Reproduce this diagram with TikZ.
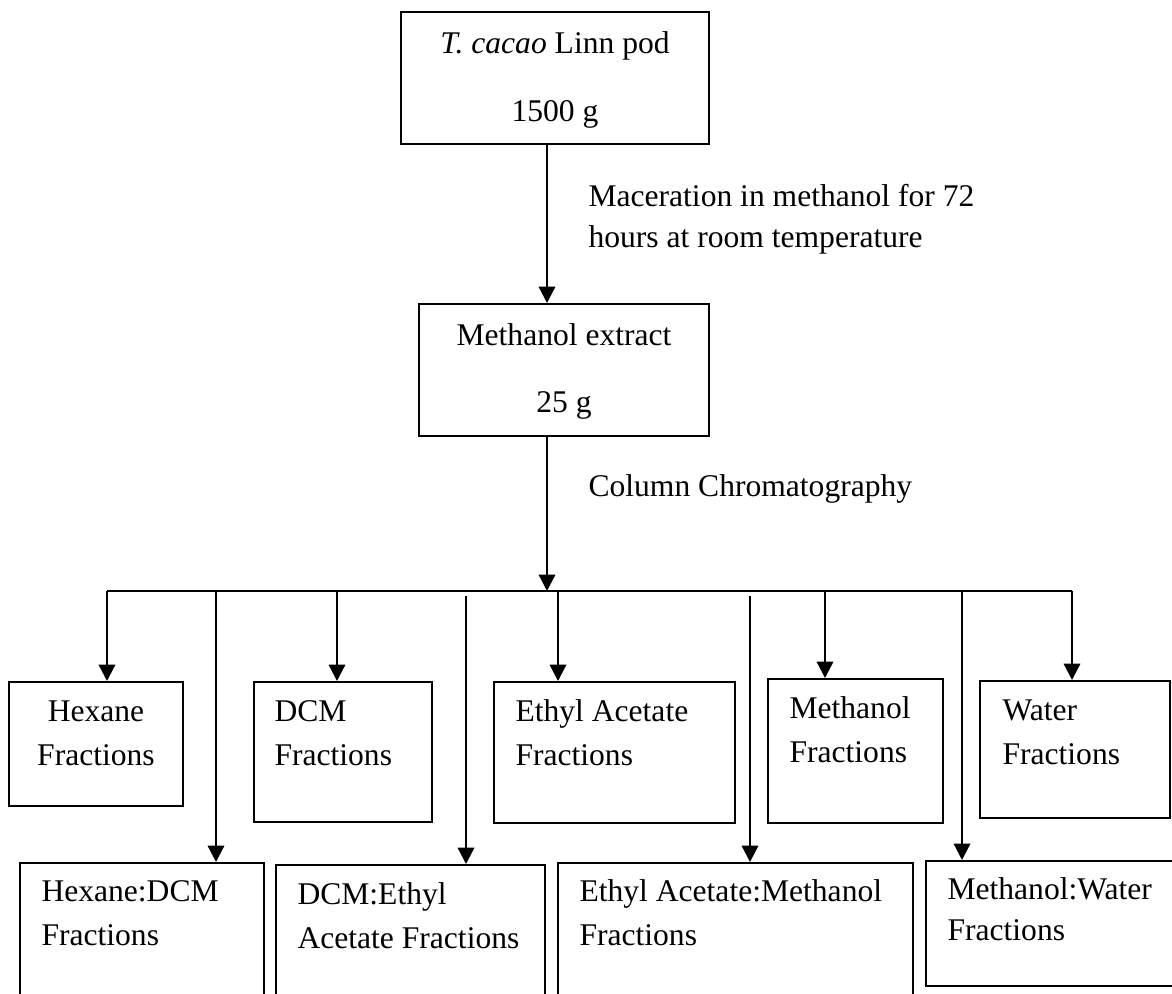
\documentclass[tikz,border=0pt]{standalone}
\usepackage{fontspec}
\setmainfont{Liberation Serif}
\usetikzlibrary{arrows.meta,fit}

\tikzset{
  box/.style={draw, line width=0.75pt, inner sep=0pt},
  % base anchor sits on the last line of the text
  txt/.style={anchor=base west, inner sep=0pt, align=left, font=\fontsize{12}{16.4}\selectfont},
  ctxt/.style={anchor=base, inner sep=0pt, align=center, font=\fontsize{12}{16.4}\selectfont},
  wire/.style={line width=0.85pt},
  flow/.style={line width=0.85pt, -{Triangle[length=6.2pt,width=6.2pt]}},
}

\begin{document}
\begin{tikzpicture}[x=0.38pt, y=-0.38pt]
  \useasboundingbox (0,0) rectangle (1172,994);
  \clip (0,0) rectangle (1172,994);

  % pod and crude extract
  \node[box, fit={(401,12) (709,144)}] (pod) {};
  \node[ctxt] (podtxt) at (555,122) {\textit{T. cacao} Linn pod\\[9.8pt]1500 g};
  \node[box, fit={(419,304) (709,436)}] (extract) {};
  \node[ctxt] (extxt) at (564,413) {Methanol extract\\[9.4pt]25 g};

  \coordinate (trunk) at (547,591);
  \draw[flow] (pod.south -| trunk) -- (extract.north -| trunk);
  \node[txt] (macer) at (588,248) {Maceration in methanol for 72\\[-0.8pt]hours at room temperature};
  \draw[flow] (extract.south -| trunk) -- (trunk);
  \node[txt] (column) at (588,497) {Column Chromatography};

  % single solvent fractions
  \node[box, fit={(9,682) (183,806)}] (hex) {};
  \node[ctxt] (hextxt) at (96,765) {Hexane\\Fractions};
  \node[box, fit={(254,682) (432,822)}] (dcm) {};
  \node[txt] (dcmtxt) at (274,765) {DCM\\Fractions};
  \node[box, fit={(494,682) (735,823)}] (ea) {};
  \node[txt] (eatxt) at (515,765) {Ethyl Acetate\\Fractions};
  \node[box, fit={(768,679) (943,823)}] (meoh) {};
  \node[txt] (meohtxt) at (789,762) {Methanol\\Fractions};
  \node[box, fit={(980,681) (1170,818)}] (water) {};
  \node[txt] (watertxt) at (1002,764) {Water\\Fractions};

  % mixed solvent fractions
  \node[box, fit={(20,863) (264,1010)}] (hexdcm) {};
  \node[txt] (hexdcmtxt) at (41,945) {Hexane:DCM\\Fractions};
  \node[box, fit={(276,865) (545,1010)}] (dcmea) {};
  \node[txt] (dcmeatxt) at (297,948) {DCM:Ethyl\\Acetate Fractions};
  \node[box, fit={(558,863) (913,1010)}] (eameoh) {};
  \node[txt] (eameohtxt) at (579,945) {Ethyl Acetate:Methanol\\Fractions};
  \node[box, fit={(926,861) (1185,986)}] (meohw) {};
  \node[txt] (meohwtxt) at (947,940) {Methanol:Water\\[-1pt]Fractions};

  % branch points on the bus
  \coordinate (b1) at (107,591);
  \coordinate (b2) at (216,591);
  \coordinate (b3) at (337,591);
  \coordinate (b4) at (466,596);
  \coordinate (b5) at (558,591);
  \coordinate (b6) at (750,596);
  \coordinate (b7) at (825,591);
  \coordinate (b8) at (962,591);
  \coordinate (b9) at (1072,591);

  \draw[wire] (b1) -- (b9);
  \draw[flow] (b1) -- (b1 |- hex.north);
  \draw[flow] (b2) -- (b2 |- hexdcm.north);
  \draw[flow] (b3) -- (b3 |- dcm.north);
  \draw[flow] (b4) -- (b4 |- dcmea.north);
  \draw[flow] (b5) -- (b5 |- ea.north);
  \draw[flow] (b6) -- (b6 |- eameoh.north);
  \draw[flow] (b7) -- (b7 |- meoh.north);
  \draw[flow] (b8) -- (b8 |- meohw.north);
  \draw[flow] (b9) -- (b9 |- water.north);
\end{tikzpicture}
\end{document}
